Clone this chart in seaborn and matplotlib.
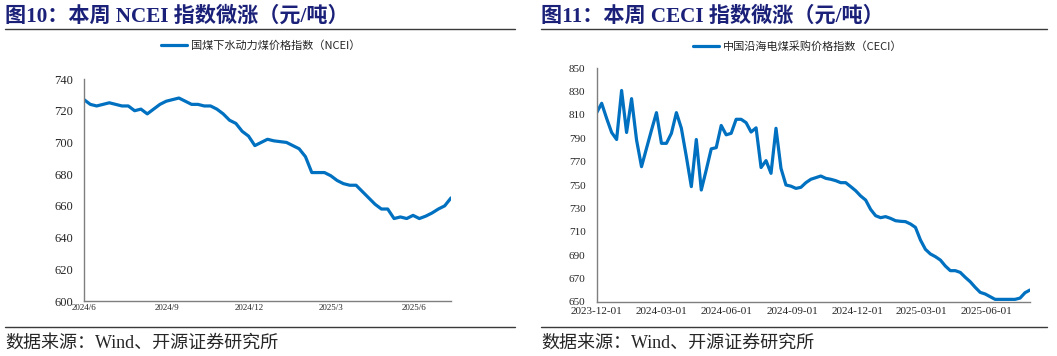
import pandas as pd
import matplotlib.pyplot as plt
import matplotlib.dates as mdates
from matplotlib.lines import Line2D
import seaborn as sns

# NCEI weekly index (yuan/ton), from 2024-06
ncei_start = "2024-06-01"
ncei_values = [727, 724, 723, 724, 725, 724, 723, 723, 720, 721,
               718, 721, 724, 726, 727, 728, 726, 724, 724, 723,
               723, 721, 718, 714, 712, 707, 704, 698, 700, 702,
               701, 700.5, 700, 698, 696, 691, 681, 681, 681, 679,
               676, 674, 673, 673, 669, 665, 661, 658, 658, 652,
               653, 652, 654, 652, 653.5, 655.5, 658, 660, 665]

# CECI weekly index (yuan/ton), from 2023-12
ceci_start = "2023-12-01"
ceci_values = [812, 820, 807, 795, 789, 831, 795, 824, 788.6, 765.7,
               781.4, 797, 812, 785.7, 785.7, 794.3, 812, 798.6, 774.3, 748.6,
               789, 745.7, 763, 781, 782, 801, 793, 794.3, 806.3, 806.3,
               803.4, 795.4, 799, 765, 770.9, 760, 798.6, 764.3, 750, 749,
               747.1, 748, 752, 754.9, 756.3, 757.7, 755.7, 754.9, 753.7, 752,
               752, 748.6, 745.1, 740.6, 737.1, 729.1, 723.7, 722, 722.9, 721.4,
               719.4, 718.9, 718.6, 716.6, 713.7, 702.9, 694.9, 690.9, 688.6, 685.7,
               680.6, 676.6, 676.6, 675.1, 670.9, 667.1, 662.3, 658, 656.6, 654.3,
               652, 652, 652, 652, 652, 653.1, 657.7, 660]

ncei = pd.DataFrame({"date": pd.date_range(ncei_start, periods=len(ncei_values), freq="7D"),
                     "value": ncei_values})
ceci = pd.DataFrame({"date": pd.date_range(ceci_start, periods=len(ceci_values), freq="7D"),
                     "value": ceci_values})

sns.set_style("white")
plt.rcParams["font.family"] = ["Liberation Serif", "Noto Sans CJK SC", "DejaVu Sans"]

BLUE = "#0070C0"
NAVY = "#1B2179"
AXIS = "#7F7F7F"
W, H = 1057, 356

fig = plt.figure(figsize=(W / 100, H / 100), dpi=100)


def fx(px):
    return px / W


def fy(py):
    return 1 - py / H


def style_axes(ax):
    sns.despine(ax=ax)
    for s in ["left", "bottom"]:
        ax.spines[s].set_color(AXIS)
        ax.spines[s].set_linewidth(1)
    ax.tick_params(axis="y", direction="out", length=2.5, width=0.8, color=AXIS, pad=5.5)
    ax.tick_params(axis="x", direction="in", length=3, width=0.8, color=AXIS)
    ax.set_xlabel("")
    ax.set_ylabel("")


# -----------------------------
# left: NCEI
# -----------------------------
ax1 = fig.add_axes([fx(84), fy(301), fx(451 - 84), (301 - 79) / H])
sns.lineplot(data=ncei, x="date", y="value", ax=ax1, color=BLUE, linewidth=2.3,
             label="国煤下水动力煤价格指数（NCEI）")
ax1.set_ylim(600, 740)
ax1.set_yticks(range(600, 741, 20))
ax1.set_xlim(ncei["date"].iloc[0], ncei["date"].iloc[-1])
ax1.xaxis.set_major_locator(mdates.MonthLocator(bymonth=[3, 6, 9, 12]))
ax1.xaxis.set_major_formatter(plt.FuncFormatter(
    lambda v, p: f"{mdates.num2date(v).year}/{mdates.num2date(v).month}"))
style_axes(ax1)
ax1.tick_params(axis="x", labelsize=6.5, pad=2)
ax1.tick_params(axis="y", labelsize=9)
ax1.legend(loc="center", bbox_to_anchor=(fx(261), fy(46)), bbox_transform=fig.transFigure,
           frameon=False, handlelength=2.3, handletextpad=0.4,
           prop={"family": ["Noto Sans CJK SC"], "size": 8})

# -----------------------------
# right: CECI
# -----------------------------
ax2 = fig.add_axes([fx(596.7), fy(301.7), fx(1030 - 596.7), (301.7 - 68.3) / H])
sns.lineplot(data=ceci, x="date", y="value", ax=ax2, color=BLUE, linewidth=2.3,
             label="中国沿海电煤采购价格指数（CECI）")
ax2.set_ylim(650, 850)
ax2.set_yticks(range(650, 851, 20))
ax2.set_xlim(ceci["date"].iloc[0], ceci["date"].iloc[-1])
ax2.xaxis.set_major_locator(mdates.MonthLocator(bymonth=[3, 6, 9, 12]))
ax2.xaxis.set_major_formatter(mdates.DateFormatter("%Y-%m-%d"))
style_axes(ax2)
ax2.tick_params(axis="x", labelsize=8, pad=4)
ax2.tick_params(axis="y", labelsize=8)
ax2.legend(loc="center", bbox_to_anchor=(fx(798), fy(46)), bbox_transform=fig.transFigure,
           frameon=False, handlelength=2.3, handletextpad=0.4,
           prop={"family": ["Noto Sans CJK SC"], "size": 8})

# -----------------------------
# titles, rules, source notes
# -----------------------------
title_font = ["Liberation Serif", "Noto Sans CJK SC"]
fig.text(fx(5), fy(16), "图10：本周 NCEI 指数微涨（元/吨）", color=NAVY, fontsize=15.2,
         fontweight="bold", family=title_font, va="center", ha="left")
fig.text(fx(541), fy(16), "图11：本周 CECI 指数微涨（元/吨）", color=NAVY, fontsize=15.2,
         fontweight="bold", family=title_font, va="center", ha="left")

for x0, x1 in [(5, 515), (541, 1047)]:
    for yy in (28.5, 327):
        fig.add_artist(Line2D([fx(x0), fx(x1)], [fy(yy), fy(yy)], transform=fig.transFigure,
                              color="#3A3A3A", linewidth=1))

src = "数据来源：Wind、开源证券研究所"
fig.text(fx(5), fy(343), src, fontsize=13, family=title_font, va="center", ha="left")
fig.text(fx(541), fy(343), src, fontsize=13, family=title_font, va="center", ha="left")

fig.savefig("out.png", dpi=100)
